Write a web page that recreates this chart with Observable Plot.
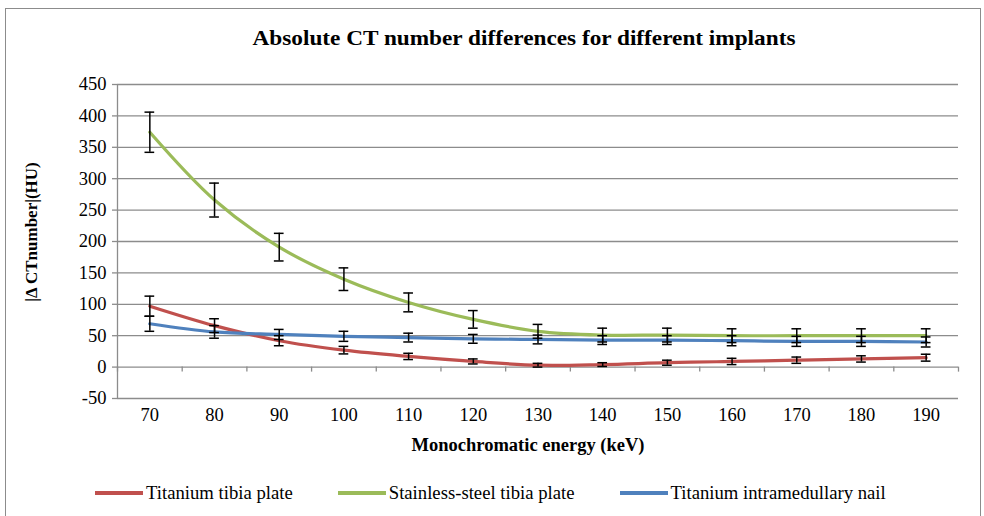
<!DOCTYPE html>
<html>
<head>
<meta charset="utf-8">
<script src="https://cdn.jsdelivr.net/npm/d3@7"></script>
<script src="https://cdn.jsdelivr.net/npm/@observablehq/plot@0.6"></script>
<style>
  html, body { margin: 0; padding: 0; background: #fff; }
  #page { position: relative; width: 984px; height: 516px; overflow: hidden; background: #fff; font-family: "Liberation Serif", Tinos, "DejaVu Serif", serif; color: #000; }
  #frame { position: absolute; left: 5px; top: 8px; width: 976px; height: 530px; border: 1px solid #8c8c8c; box-sizing: border-box; }
  #title { position: absolute; left: 524px; top: 28px; transform: translateX(-50%) scaleX(1.107); font-weight: bold; font-size: 21px; line-height: 21px; white-space: nowrap; }
  #chart { position: absolute; left: 0; top: 64px; }
  #ylabel { position: absolute; left: 31px; top: 232px; transform: translate(-50%, -50%) rotate(-90deg); font-weight: bold; font-size: 17px; line-height: 17px; white-space: nowrap; }
  #xlabel { position: absolute; left: 528px; top: 436px; transform: translateX(-50%); font-weight: bold; font-size: 18.5px; line-height: 18px; white-space: nowrap; }
  #legend { position: absolute; left: 95px; top: 484px; display: flex; align-items: center; font-size: 18.7px; line-height: 18px; white-space: nowrap; }
  .item { display: flex; align-items: center; margin-right: 45px; }
  .swatch { width: 48px; height: 4px; margin-right: 3px; }
</style>
</head>
<body>
<div id="page">
  <div id="frame"></div>
  <div id="title">Absolute CT number differences for different implants</div>
  <div id="chart"></div>
  <div id="ylabel">|Δ CTnumber|(HU)</div>
  <div id="xlabel">Monochromatic energy (keV)</div>
  <div id="legend"></div>
</div>
<script>
// ---- data ----
const energies = [70, 80, 90, 100, 110, 120, 130, 140, 150, 160, 170, 180, 190];
const seriesNames = ["Titanium tibia plate", "Stainless-steel tibia plate", "Titanium intramedullary nail"];
const seriesColors = ["#C0504D", "#9BBB59", "#4F81BD"];
const titaniumPlate = [97, 66, 42, 27, 17, 9, 3, 4, 7, 9, 11, 13, 15];
const titaniumPlateErr = [16, 11, 8, 6, 5, 4, 3, 3, 4, 5, 5, 5, 5.5];
const steelPlate = [374, 266, 191, 140, 103, 76, 57, 51, 51, 50, 50, 50, 50];
const steelPlateErr = [32, 27, 22, 18, 15, 14, 11, 11, 11, 11, 11, 11, 11];
const titaniumNail = [69, 56, 52, 49, 47, 45, 44, 43, 43, 42, 41, 41, 40];
const titaniumNailErr = [12, 10, 8, 8, 7, 7, 7, 7, 7, 8, 8, 8, 8];
const yTicks = [-50, 0, 50, 100, 150, 200, 250, 300, 350, 400, 450];

// ---- build table ----
const valueSets = [titaniumPlate, steelPlate, titaniumNail];
const errSets = [titaniumPlateErr, steelPlateErr, titaniumNailErr];
const rows = [];
seriesNames.forEach((name, i) => {
  energies.forEach((e, j) => {
    rows.push({series: name, energy: e, value: valueSets[i][j], err: errSets[i][j]});
  });
});
const step = energies[1] - energies[0];
const xDomain = [energies[0] - step / 2, energies[energies.length - 1] + step / 2];
const boundaries = d3.range(xDomain[0], xDomain[1] + 0.001, step);
const capHalf = step * 0.075;
const tickLen = (yTicks[1] - yTicks[0]) * 0.16;
const grid = "#8c8c8c";

const chart = Plot.plot({
  width: 984,
  height: 400,
  marginTop: 20,
  marginBottom: 66,
  marginLeft: 117,
  marginRight: 26,
  style: {fontFamily: "'Liberation Serif', Tinos, 'DejaVu Serif', serif", fontSize: "18.5px", color: "#000", background: "transparent", overflow: "visible"},
  x: {type: "linear", domain: xDomain},
  y: {domain: [yTicks[0], yTicks[yTicks.length - 1]]},
  color: {domain: seriesNames, range: seriesColors},
  marks: [
    Plot.ruleY(yTicks, {stroke: grid, strokeWidth: 1.3}),
    Plot.ruleX([xDomain[0]], {stroke: grid, strokeWidth: 1.3}),
    Plot.ruleX(boundaries, {y1: 0, y2: -tickLen, stroke: grid, strokeWidth: 1.3}),
    Plot.axisY({ticks: yTicks, tickSize: 5, tickPadding: 6, stroke: grid, strokeWidth: 1.3, label: null, tickFormat: d => String(d)}),
    Plot.axisX({ticks: energies, tickSize: 0, tickPadding: 9, label: null, tickFormat: d => String(d)}),
    Plot.line(rows, {x: "energy", y: "value", z: "series", stroke: "series", strokeWidth: 3.2, curve: "catmull-rom"}),
    Plot.ruleX(rows, {x: "energy", y1: d => d.value - d.err, y2: d => d.value + d.err, stroke: "#000", strokeWidth: 1.5}),
    Plot.ruleY(rows, {y: d => d.value + d.err, x1: d => d.energy - capHalf, x2: d => d.energy + capHalf, stroke: "#000", strokeWidth: 1.5}),
    Plot.ruleY(rows, {y: d => d.value - d.err, x1: d => d.energy - capHalf, x2: d => d.energy + capHalf, stroke: "#000", strokeWidth: 1.5})
  ]
});
document.getElementById("chart").appendChild(chart);

// ---- legend ----
const legend = document.getElementById("legend");
seriesNames.forEach((name, i) => {
  const item = document.createElement("div");
  item.className = "item";
  const sw = document.createElement("div");
  sw.className = "swatch";
  sw.style.background = seriesColors[i];
  const label = document.createElement("span");
  label.textContent = name;
  item.appendChild(sw);
  item.appendChild(label);
  legend.appendChild(item);
});
</script>
</body>
</html>
